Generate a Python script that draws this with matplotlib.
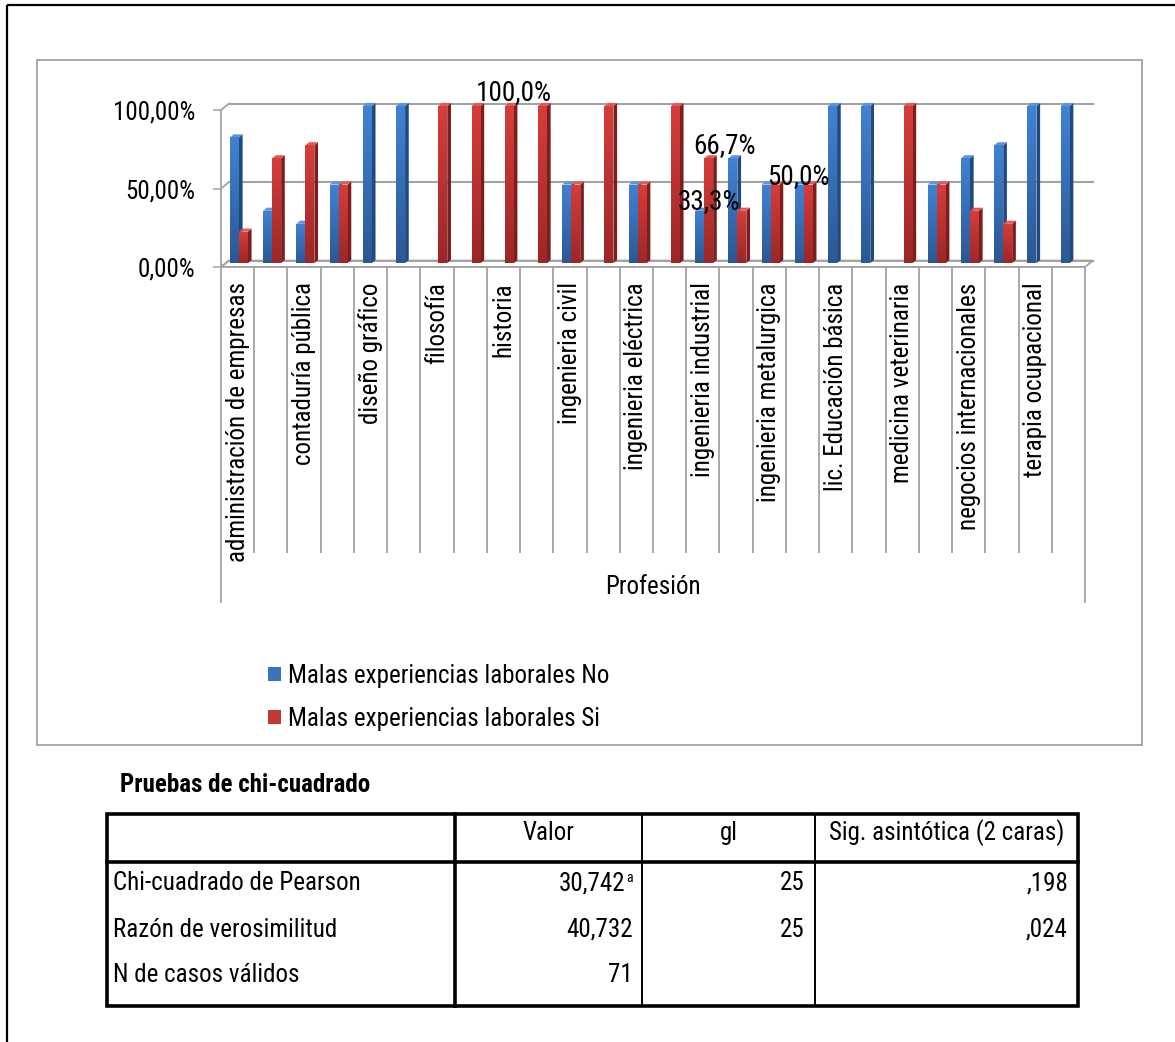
import numpy as np
import matplotlib
matplotlib.use("Agg")
import matplotlib.pyplot as plt
import matplotlib.patches as patches
from matplotlib.colors import LinearSegmentedColormap

plt.rcParams["font.family"] = ["Roboto Condensed", "Liberation Sans", "DejaVu Sans"]

# ---- data ----
categories = ["administración de empresas", "", "contaduría pública", "", "diseño gráfico", "",
              "filosofía", "", "historia", "", "ingenieria civil", "", "ingenieria eléctrica", "",
              "ingenieria industrial", "", "ingenieria metalurgica", "", "lic. Educación básica", "",
              "medicina veterinaria", "", "negocios internacionales", "", "terapia ocupacional", ""]
malas_no = [80, 33.3, 25, 50, 100, 100, 0, 0, 0, 0, 50, 0, 50, 0, 33.3, 66.7, 50, 50, 100, 100, 0, 50, 66.7, 75, 100, 100]
malas_si = [20, 66.7, 75, 50, 0, 0, 100, 100, 100, 100, 50, 100, 50, 100, 66.7, 33.3, 50, 50, 0, 0, 100, 50, 33.3, 25, 0, 0]
series_names = ["Malas experiencias laborales No", "Malas experiencias laborales Si"]
y_ticks = [0, 50, 100]
y_tick_labels = ["0,00%", "50,00%", "100,00%"]
# (category index, series index) of the bars carrying a value label
labelled_bars = [(8, 1), (14, 1), (14, 0), (16, 1)]
label_offsets = [(3.6, 10), (11.5, 9.4), (6.5, 6.5), (16.5, 5.8)]  # points

table_title = "Pruebas de chi-cuadrado"
table_header = ["", "Valor", "gl", "Sig. asintótica (2 caras)"]
row_labels = ["Chi-cuadrado de Pearson", "Razón de verosimilitud", "N de casos válidos"]
valor = ["30,742", "40,732", "71"]
valor_notes = ["a", "", ""]
gl = ["25", "25", ""]
sig = [",198", ",024", ""]

# ---- layout ----
W, H = 1175, 1042
GRAY = "#a3a3a3"
FS = 18
X0_PX, SLOT_PX = 221, 33.23
Y0_PX, Y_PX = 267, 1.57
XMAX, YMAX = 26.4, 110
DX, DY = 0.24, 4.1        # depth of the 3D floor/back wall in data units
BDX, BDY = 0.11, 2.0      # depth of the bars
BASE = 2.5

fig = plt.figure(figsize=(W / 100, H / 100), dpi=100)
bg = fig.add_axes([0, 0, 1, 1])
bg.set_xlim(0, W)
bg.set_ylim(H, 0)
bg.axis("off")

# page frame + chart frame
bg.plot([7, W], [5, 5], color="black", lw=1.6, solid_capstyle="butt")
bg.plot([7, 7], [5, H], color="black", lw=1.6, solid_capstyle="butt")
bg.add_patch(patches.Rectangle((37, 60), 1142 - 37, 745 - 60, fill=False, ec=GRAY, lw=1.3))

ax = fig.add_axes([X0_PX / W, (H - Y0_PX) / H, XMAX * SLOT_PX / W, YMAX * Y_PX / H])
ax.patch.set_alpha(0)
ax.set_xlim(0, XMAX)
ax.set_ylim(0, YMAX)

n = len(categories)

def ypx(px):
    return (Y0_PX - px) / Y_PX

# floor and back wall
ax.add_patch(patches.Polygon([(0, 0), (n, 0), (n + DX, DY), (DX, DY)], closed=True,
                             fc="white", ec=GRAY, lw=1.3, zorder=1))
for v in y_ticks:
    ax.plot([DX, n + DX], [v + DY, v + DY], color=GRAY, lw=1.5, zorder=1)
    ax.plot([0, DX], [v, v + DY], color=GRAY, lw=1.3, zorder=1)

# category separators below the floor
ax.vlines(np.arange(1, n), ypx(553), 0, color=GRAY, lw=1.3, clip_on=False)
ax.vlines([0, n], ypx(603), 0, color=GRAY, lw=1.3, clip_on=False)

blue_cmap = LinearSegmentedColormap.from_list("b", ["#2b5894", "#4182d4"])
red_cmap = LinearSegmentedColormap.from_list("r", ["#9c2727", "#d63d3b"])
faces = [("#1f4a80", "#5b95dc", blue_cmap), ("#7d1e1e", "#e25a58", red_cmap)]
width = 0.27
grad = np.linspace(1, 0, 64).reshape(-1, 1)
x = np.arange(n)

for s, vals in enumerate([malas_no, malas_si]):
    side_c, top_c, cmap = faces[s]
    bars = ax.bar(x + 0.27 + s * width, vals, width=width, bottom=BASE, align="edge",
                  color=cmap(0.6), linewidth=0)
    for i, (rect, v) in enumerate(zip(bars, vals)):
        z = 3 + i * 0.1 + s * 0.05
        rect.set_zorder(z)
        if v <= 0:
            continue
        x0, x1 = rect.get_x(), rect.get_x() + width
        top = BASE + v
        ax.add_patch(patches.Polygon([(x1, BASE), (x1 + BDX, BASE + BDY), (x1 + BDX, top + BDY), (x1, top)],
                                     closed=True, fc=side_c, lw=0, zorder=z))
        ax.add_patch(patches.Polygon([(x0, top), (x0 + BDX, top + BDY), (x1 + BDX, top + BDY), (x1, top)],
                                     closed=True, fc=top_c, lw=0, zorder=z))
        im = ax.imshow(grad, extent=[x0, x1, BASE, top], cmap=cmap, aspect="auto",
                       origin="upper", interpolation="bilinear", zorder=z)
        im.set_clip_path(rect)

ax.set_xlim(0, XMAX)
ax.set_ylim(0, YMAX)

# value labels
all_vals = [malas_no, malas_si]
for (i, s), off in zip(labelled_bars, label_offsets):
    v = all_vals[s][i]
    txt = f"{v:.1f}".replace(".", ",") + "%"
    ax.annotate(txt, (i + 0.27 + s * width + width / 2, BASE + v), xytext=off,
                textcoords="offset points", ha="center", va="center", fontsize=19.5, zorder=10)

# axes
for side in ["top", "right"]:
    ax.spines[side].set_visible(False)
ax.spines["left"].set_bounds(0, 100)
ax.spines["bottom"].set_bounds(0, n)
for side in ["left", "bottom"]:
    ax.spines[side].set_color(GRAY)
    ax.spines[side].set_linewidth(1.3)

ax.set_yticks(y_ticks, labels=y_tick_labels)
ax.tick_params(axis="y", length=5.8, width=1.1, color=GRAY, pad=13, labelsize=FS)
ax.set_xticks(x + 0.5, labels=categories, rotation=90, ha="center", va="top")
ax.tick_params(axis="x", length=0, pad=11, labelsize=FS)
ax.set_xlabel("Profesión", fontsize=FS)
ax.xaxis.set_label_coords(n / 2 / XMAX, ypx(587) / YMAX)
ax.xaxis.label.set_va("center")

handles = [patches.Patch(fc="#3a74bd", ec="none"), patches.Patch(fc="#c23834", ec="none")]
fig.legend(handles, series_names, loc="upper left", bbox_to_anchor=(268 / W, 1 - 664 / H),
           frameon=False, fontsize=FS, handlelength=0.52, handleheight=0.52,
           handletextpad=0.3, labelspacing=0.76, borderpad=0, borderaxespad=0)

# ---- table ----
bg.text(120, 785, table_title, fontsize=FS, fontweight="bold", ha="left", va="center")
col_x = [107, 455, 642, 815, 1078]
tbl_top, head_bot, tbl_bot = 814, 862, 1006
row_y = [883, 930, 975]
thick, thin = 2.6, 1.4
bg.add_patch(patches.Rectangle((col_x[0], tbl_top), col_x[-1] - col_x[0], tbl_bot - tbl_top,
                               fill=False, ec="black", lw=thick))
bg.plot([col_x[0], col_x[-1]], [head_bot, head_bot], color="black", lw=thick)
bg.plot([col_x[1], col_x[1]], [tbl_top, tbl_bot], color="black", lw=thick)
for cx in col_x[2:4]:
    bg.plot([cx, cx], [tbl_top, tbl_bot], color="black", lw=thin)

for j, h in enumerate(table_header):
    bg.text((col_x[j] + col_x[j + 1]) / 2, 833, h, fontsize=FS, ha="center", va="center")
for r, y in enumerate(row_y):
    bg.text(col_x[0] + 6, y, row_labels[r], fontsize=FS, ha="left", va="center")
    t = bg.text(col_x[2] - 9, y, valor[r], fontsize=FS, ha="right", va="center")
    if valor_notes[r]:
        bg.text(col_x[2] - 9, y - 5, valor_notes[r], fontsize=10, ha="right", va="center")
        t.set_x(col_x[2] - 17)
    bg.text(col_x[3] - 10, y, gl[r], fontsize=FS, ha="right", va="center")
    bg.text(col_x[4] - 10, y, sig[r], fontsize=FS, ha="right", va="center")

fig.savefig("out.png", dpi=100)
